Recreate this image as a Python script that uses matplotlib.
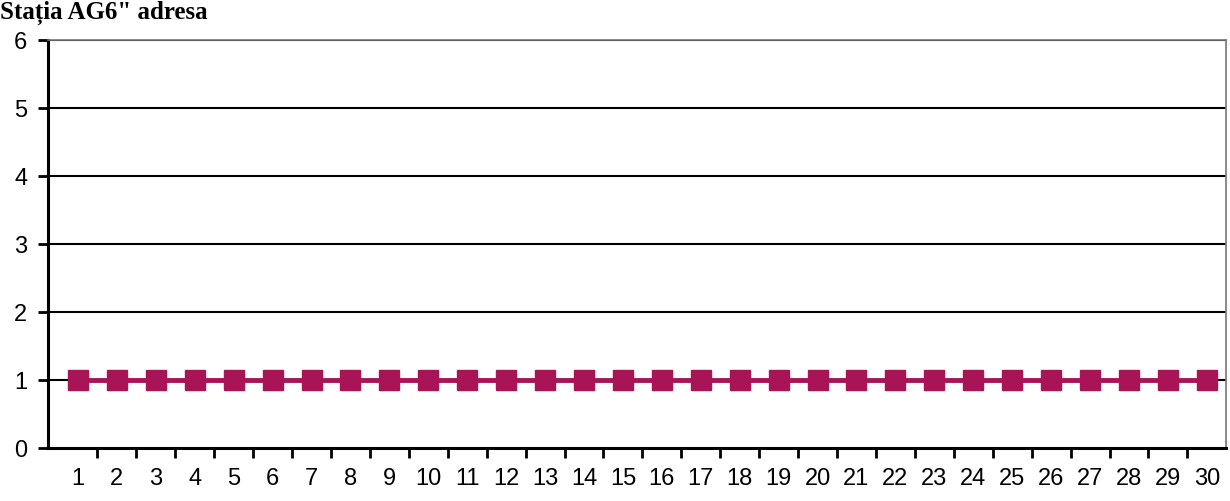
import matplotlib.pyplot as plt
import numpy as np

days = list(range(1, 31))
values = [1] * 30
yticks = [0, 1, 2, 3, 4, 5, 6]

plt.rcParams['font.family'] = ['Liberation Sans', 'DejaVu Sans']

fig = plt.figure(figsize=(12.3, 5.01), dpi=100)
ax = fig.add_axes([0.039, 0.105, 0.958, 0.815])

for y in yticks[1:]:
    ax.axhline(y, color='black', lw=1.5, zorder=1)

ax.plot(days, values, color='#A81456', lw=3.5, marker='s', ms=15,
        markerfacecolor='#A81456', markeredgecolor='#A81456', zorder=3)

ax.set_xlim(0.23, 30.5)
ax.set_ylim(0, 6)
ax.set_yticks(yticks)
ax.set_xticks(days)
ax.set_xticks(np.arange(1.5, 30.5, 1), minor=True)
ax.tick_params(axis='x', which='major', length=0, pad=14, labelsize=17)
ax.tick_params(axis='x', which='minor', length=7, width=2, direction='out')
ax.tick_params(axis='y', length=7, width=2, direction='out', labelsize=17, pad=8)

for s in ['left', 'bottom']:
    ax.spines[s].set_linewidth(2.2)
    ax.spines[s].set_color('black')
for s in ['top', 'right']:
    ax.spines[s].set_linewidth(1.2)
    ax.spines[s].set_color('#777777')

fig.text(0.0, 0.998, 'Stația AG6" adresa', family='Liberation Serif',
         fontweight='bold', fontsize=18, va='top', ha='left')

fig.savefig('out.png', dpi=100)
